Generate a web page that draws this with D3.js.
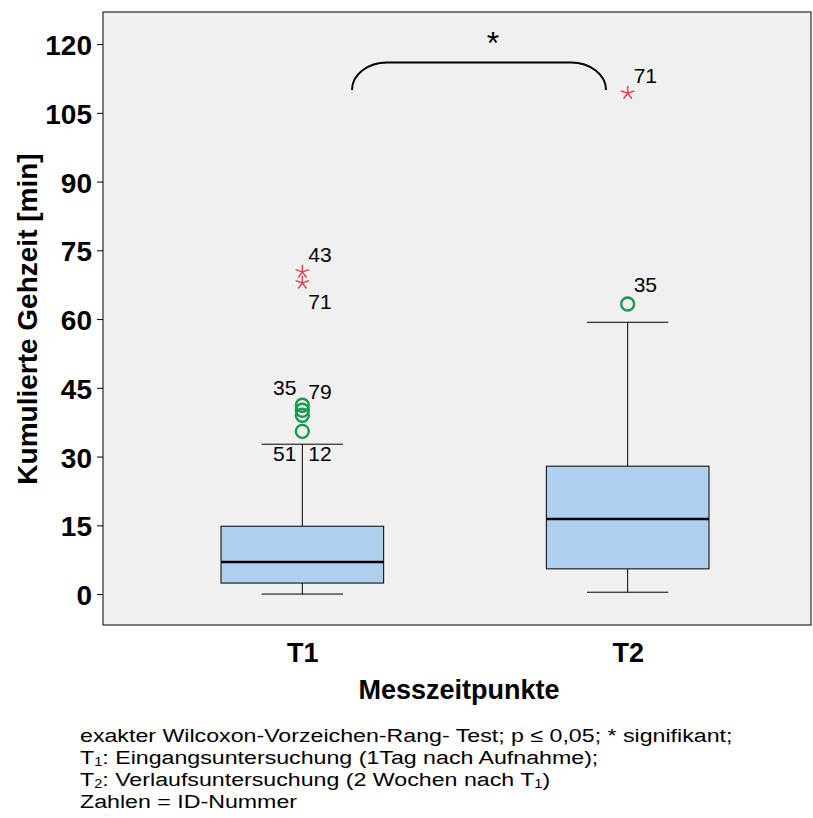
<!DOCTYPE html>
<html>
<head>
<meta charset="utf-8">
<script src="https://cdn.jsdelivr.net/npm/d3@7"></script>
<style>
  html, body { margin: 0; padding: 0; background: #ffffff; }
  svg { display: block; }
  text { font-family: "Liberation Sans", Arial, sans-serif; }
</style>
</head>
<body>
<svg id="chart" width="813" height="818"></svg>
<script>
// ---- data ----
const categories = ["T1", "T2"];
const q1 = [2.4, 5.5];
const median = [7.0, 16.4];
const q3 = [14.8, 27.9];
const whiskerLow = [0.0, 0.4];
const whiskerHigh = [32.7, 59.3];
// mild outliers (circles)
const circleCat = ["T1", "T1", "T1", "T1", "T2"];
const circleVal = [41.2, 40.1, 39.0, 35.5, 63.3];
// extreme outliers (stars)
const starCat = ["T1", "T1", "T2"];
const starVal = [70.3, 67.9, 109.3];
// ID labels
const labelText = ["43", "71", "35", "79", "51", "12", "71", "35"];
const labelCat  = ["T1", "T1", "T1", "T1", "T1", "T1", "T2", "T2"];
const labelVal  = [72.5, 62.2, 43.5, 42.5, 29.0, 29.0, 111.5, 66.0];
const labelSide = [1, 1, -1, 1, -1, 1, 1, 1];
const yTicks = [0, 15, 30, 45, 60, 75, 90, 105, 120];
const yTitle = "Kumulierte Gehzeit [min]";
const xTitle = "Messzeitpunkte";
const sigMark = "*";
const footLines = [
  [["exakter Wilcoxon-Vorzeichen-Rang- Test; p ≤ 0,05; * signifikant;", false]],
  [["T", false], ["1", true], [": Eingangsuntersuchung (1Tag nach Aufnahme);", false]],
  [["T", false], ["2", true], [": Verlaufsuntersuchung (2 Wochen nach T", false], ["1", true], [")", false]],
  [["Zahlen = ID-Nummer", false]]
];

// ---- layout ----
const svg = d3.select("#chart");
const plot = { left: 103, right: 811, top: 12, bottom: 625 };

const y = d3.scaleLinear().domain([-6.75, 127.0]).range([plot.bottom, plot.top]);
const xb = d3.scaleBand().domain(categories).range([221, 709]).paddingInner(0.5);
const xc = c => xb(c) + xb.bandwidth() / 2;
const bw = xb.bandwidth();

// background
svg.append("rect")
  .attr("x", plot.left).attr("y", plot.top)
  .attr("width", plot.right - plot.left).attr("height", plot.bottom - plot.top)
  .attr("fill", "#f0f0f0").attr("stroke", "#000").attr("stroke-width", 1);

// y axis
const yAxis = d3.axisLeft(y).tickValues(yTicks).tickSize(6).tickPadding(5);
const gy = svg.append("g").attr("transform", `translate(${plot.left},0)`).call(yAxis);
gy.select(".domain").remove();
gy.selectAll("text").attr("font-size", 28).attr("font-weight", "bold")
  .attr("fill", "#000").attr("dy", "0.38em")
  .attr("font-family", "Liberation Sans, Arial, sans-serif");
gy.selectAll("line").attr("stroke", "#000");

// x axis labels
const xAxis = d3.axisBottom(d3.scalePoint().domain(categories).range([xc("T1"), xc("T2")]))
  .tickSize(0).tickPadding(18);
const gx = svg.append("g").attr("transform", `translate(0,${plot.bottom})`).call(xAxis);
gx.select(".domain").remove();
gx.selectAll("text").attr("font-size", 27).attr("font-weight", "bold")
  .attr("fill", "#000").attr("font-family", "Liberation Sans, Arial, sans-serif");

// titles
svg.append("text")
  .attr("transform", `translate(37,${319}) rotate(-90)`)
  .attr("text-anchor", "middle").attr("font-size", 28).attr("font-weight", "bold")
  .text(yTitle);
svg.append("text")
  .attr("x", (plot.left + plot.right) / 2 + 2).attr("y", 699)
  .attr("text-anchor", "middle").attr("font-size", 27).attr("font-weight", "bold")
  .text(xTitle);

// boxes
const g = svg.append("g");
categories.forEach((c, i) => {
  const cx = xc(c);
  g.append("line").attr("x1", cx).attr("x2", cx)
    .attr("y1", y(whiskerLow[i])).attr("y2", y(q1[i])).attr("stroke", "#000");
  g.append("line").attr("x1", cx).attr("x2", cx)
    .attr("y1", y(q3[i])).attr("y2", y(whiskerHigh[i])).attr("stroke", "#000");
  [whiskerLow[i], whiskerHigh[i]].forEach(v => {
    g.append("line").attr("x1", cx - bw / 4).attr("x2", cx + bw / 4)
      .attr("y1", y(v)).attr("y2", y(v)).attr("stroke", "#000");
  });
  g.append("rect").attr("x", cx - bw / 2).attr("width", bw)
    .attr("y", y(q3[i])).attr("height", y(q1[i]) - y(q3[i]))
    .attr("fill", "#aecfee").attr("stroke", "#000").attr("stroke-width", 1);
  g.append("line").attr("x1", cx - bw / 2).attr("x2", cx + bw / 2)
    .attr("y1", y(median[i])).attr("y2", y(median[i]))
    .attr("stroke", "#000").attr("stroke-width", 2.5);
});

// circles
circleVal.forEach((v, i) => {
  g.append("circle").attr("cx", xc(circleCat[i])).attr("cy", y(v)).attr("r", 6.5)
    .attr("fill", "none").attr("stroke", "#1a9a4c").attr("stroke-width", 2.4);
});

// stars (5-armed asterisk)
const starPath = (s) => {
  const angles = [-90, -18, 54, 126, 198];
  return angles.map(a => {
    const rad = a * Math.PI / 180;
    return `M0,0L${(s * Math.cos(rad)).toFixed(2)},${(s * Math.sin(rad)).toFixed(2)}`;
  }).join("");
};
starVal.forEach((v, i) => {
  g.append("path").attr("transform", `translate(${xc(starCat[i])},${y(v)})`)
    .attr("d", starPath(7)).attr("stroke", "#ee3a45").attr("stroke-width", 1.4)
    .attr("fill", "none");
});

// ID labels
labelText.forEach((t, i) => {
  const cx = xc(labelCat[i]);
  g.append("text")
    .attr("x", labelSide[i] > 0 ? cx + 6 : cx - 6)
    .attr("y", y(labelVal[i]))
    .attr("text-anchor", labelSide[i] > 0 ? "start" : "end")
    .attr("font-size", 21).attr("fill", "#000")
    .text(t);
});

// significance bracket
const bx1 = 352, bx2 = 606;
const byTop = y(116), byBot = y(110);
const rx = 35, ry = byBot - byTop;
svg.append("path")
  .attr("d", `M${bx1},${byBot} A${rx},${ry} 0 0 1 ${bx1 + rx},${byTop} L${bx2 - rx},${byTop} A${rx},${ry} 0 0 1 ${bx2},${byBot}`)
  .attr("fill", "none").attr("stroke", "#000").attr("stroke-width", 2);
svg.append("text").attr("x", 493).attr("y", 54)
  .attr("text-anchor", "middle").attr("font-size", 32)
  .attr("font-family", "DejaVu Sans, sans-serif").text(sigMark);

// footnote (horizontally widened like the reference)
const foot = svg.append("g").attr("font-size", 19).attr("fill", "#000")
  .attr("transform", "translate(80,0) scale(1.22,1)");
footLines.forEach((parts, li) => {
  const t = foot.append("text").attr("x", 0).attr("y", 742 + li * 22);
  let prevSub = false;
  parts.forEach(([s, sub]) => {
    const ts = t.append("tspan").text(s);
    if (sub) { ts.attr("font-size", 12).attr("dy", prevSub ? 0 : 2); }
    else if (prevSub) { ts.attr("dy", -2); }
    prevSub = sub;
  });
});
</script>
</body>
</html>
